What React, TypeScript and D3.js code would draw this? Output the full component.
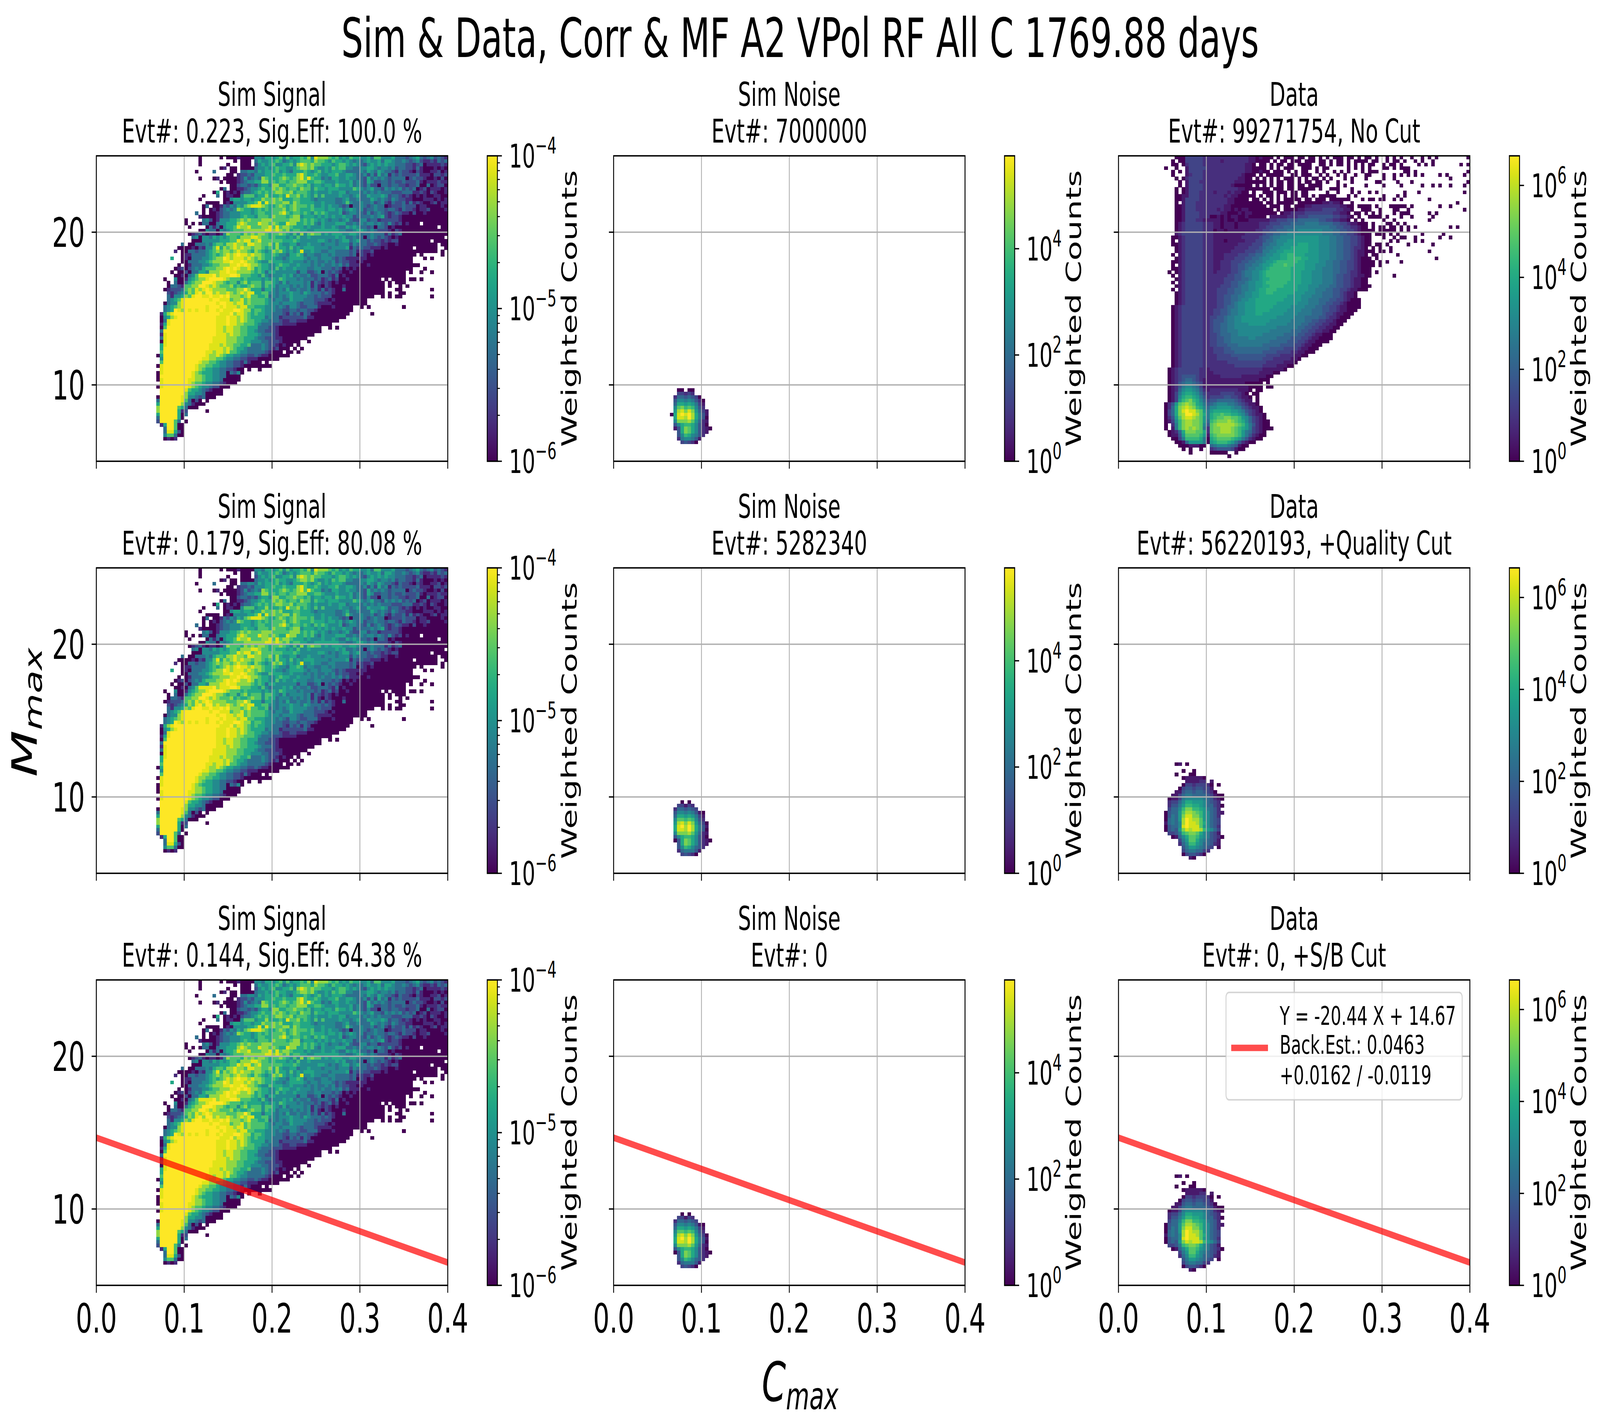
import React from "react";
import * as d3 from "d3";

// Each row: "firstColumn:levels". '.' = empty bin, spaces are only visual separators.
// Levels are log-scale codes (digits 0-9 for signal, hex 0-f for the others).
// The three Sim Signal panels are drawn from this single read-off array (their bins differ only in speckle).
const signalRows: string[] = [
"29:0.....0.00010000 4435545646 4556574877 7656454655 4453664445 3332345323 42321",
"29:0.........0.000. 3544556534 5456665766 5465545434 3454453554 3343234211 21323",
"29:0.......0...000. 2454564455 6478767665 5545665454 3245454544 3332212301 11121",
"29:......01.00.0000 3445456554 4567767544 5465664433 4455434434 2332213100 01010",
"28:0....3....00.3344 3545556454 3555654564 5455543333 4354354332 1322102100 11201",
"37:00.12232 4445565565 5578655654 4556445543 3424253413 2322223111 02212",
"29:0...01.000012423 4376555676 5678686553 4355445443 3253434323 3330232210 01020",
"35:0.00012344 5577565665 6677755665 4445444534 3254223323 2232223101 11211",
"38:0023323 2455477556 6766564554 5546554534 3242203323 3221223003 01220",
"35:03.0011234 4565576765 6657664655 4555444465 4345332434 3423230120 11101",
"33:05.0101023 34 5656567766 7566654544 4544553444 3434343332 2233311210 21001",
"30:0...3.01100466 6 4557555658 6675654646 4444544345 3354445423 3212101010 01100",
"29:0......0045 54554 5576676755 5665554344 4443345334 3335434324 3221100011 10101",
"31:0000.010444455 6858676677 5765555445 4443346433 4334234213 2231312100 12011",
"30:03.00132435 4678 8876556765 6766656445 4544323033 4323433012 2232220110 00010",
"30:0.010234 3476 554 5656566675 6765556555 4554534543 4233433233 2132210112 00001",
"28:3.0.001233 4445 554 5665566786 5665654656 5444523443 3242343212 3211020010 00000",
"29:1000012334 4456 55 4666576665 6774555454 5454454423 3334345212 2100000000 00000",
"25:0....342014445 5676 76 6677766666 7775656545 4344345322 4423312222 2100000000 00000",
"25:0.0.033003445 5578 766 6877676558 7755656435 4445553343 4344343242 1201000.00 00000",
"26:0....0313045 5687 786 6677868677 6555454445 4454335454 3323033201 0000000000 00.00",
"29:0043304 3456 6677 77 7788787675 6655445555 5554433455 4343222102 1000000000 00000",
"26:0123101101476665767 6776566765 4647467664 5455544554 3334333131 2300000000 00000",
"27:340443545456657778 8766565554 5464454444 4445453343 3034323210 1000000000 0000.",
"27:000444445556687886 7866666655 5654444455 4343455345 3323221212 2000000000 .0000",
"24:3.0033343566577877688 7766757544 5534454443 4443444243 3322321100 1000000000 00.00",
"23:0000102144685767878776 7765657554 6454555444 4344445132 3221110100 00000.0000 00..0",
"22:1.0033233456767767877 65 7654576754 5458445443 3443333231 2112000000 0000000000 00.0.",
"24:011333345656787898878 7765565443 5565344334 4343333230 2101000000 000000.0.. ...0.",
"21:5..010333445677987888787 6765554434 5555434434 4432321111 1100000000 00000...0. 0....",
"24:003334456777889889877 6544655544 5444343433 4342322110 1000000000 00000..... .....",
"23:0.0133344566777889898776 5544565544 5444343433 4342311100 1000000000 00000..... .....",
"22:01202343566677898987787 5655446454 4544433443 3323201010 0000000000 00000...0. .....",
"21:0.0020335547778898877776 5653554444 4424422340 3232100100 0000000000 000.0..0.. 0....",
"22:00103468888978889986665 5464344454 5343342233 3213010000 0000000000 000....... .....",
"19:0..40014567789999876665655 5545454654 4434333231 2312001000 000000.0.0 000.00.0.. .....",
"20:0.30035677999877656646756 6646654353 4444341321 2101000000 0000000.0. 000....... .....",
"20:0332166779987876667565567 6646553444 3434341310 2100010000 0000000.0. .0.0......",
"19:01222367687898777766677975 5535543435 3343342313 1210030000 0000000... 00........ 0....",
"20:2123457689799787787678788 5566443444 5443543332 3210000000 0000000.0. .00.......",
"20:3144576899889889897776786 6556343434 5444433232 2200000000 0000..0.0. 00........ 0....",
"20:3456899999998998886778676 6665434433 5444333222 1010000000 00........",
"19:03447899999999989988788676 6665444344 4432333211 1100000000 00........",
"19:34567899999989998988878866 5554443432 4432233310 00100000.. 0.0....... ..0.......",
"19:34598798989989989888998775 6654443322 3323322100 00000000..",
"18:1578 9999999999999 8889788765 6554433321 3231320000 0000000... ...0......",
"18:04578 99999999999 88898878765 5553433122 2222311000 000000....",
"18:0389 999999999999 88898878766 5544333211 2211100000 0000......",
"18:1589 999999999999 88898877666 5433322211 1100000000 00........",
"18:069 9999999999999 88788776655 5333221000 000000000. .0.0......",
"18:39 99999999999999 88788776655 4332221000 000000000.",
"18:18 99999999999999 88878776655 5433321000 0000000...",
"18:38 9999999999999 888877766555 4332221100 00000.....",
"18:08 9999999999999 888877766554 4433222100 000..0....",
"18:58 999999999999 8887877665563 3343221010 0.0.......",
"18:59 999999999999 8888787655433 3343212000 .0.0......",
"18:69 99999999999 88788786654433 33321000.0 0.0.......",
"17:059 99999999999 87787655443322 3211000000",
"18:49 9999999999 887766544332211 1000000...",
"18:69 999999999 8776654433221310 00.0......",
"17:089 99999999 87766554433221000 00000.....",
"18:89 99999999 87655443322100.0. .0........",
"17:089 9999999 876555443303240",
"17:09 99999999 87765544330000",
"17:089 999999 887765544300000",
"18:8 9999999 87665443321000",
"17:08 9999999 876544322000",
"18:9999999 86554321000",
"18:9999999 75544300000",
"17:0 999999 8744323000",
"17:3 999999 863020.0",
"17:5 999999 7431000",
"17:7 99999 653000",
"17:7 99999 512.....0",
"17:5 99999 503",
"17:3 99999 50",
"17:2 9999 63.0",
"18:1599600",
"19:399600",
"19:388520",
"19:466300",
"19:0101",
];

const noiseRowsTop: string[] = [
...Array<string>(67).fill(""),
"18:00.00",
"18:33232",
"17:25545430",
"17:477676420",
"17:599898631",
"17:7bcaba742",
"17:8decec8531",
"16:09efefd9641",
"17:9eedfd9640",
"17:7cccdb8521",
"17:479aa97420",
"17:149cb974210",
"18:49cb97421",
"18:47a97642",
"18:2677641",
"19:34320",
];

const noiseRowsCut: string[] = [
...Array<string>(67).fill(""),
"19:0.0",
"18:33132",
"17:2554543",
"17:477676410",
"17:599898631",
"17:7bbaba742",
"17:8decec8530",
"17:9efdfd9641",
"17:9eedfd9640",
"17:7cccdb8521",
"17:479aa97420",
"17:049cb974210",
"18:49cb97421",
"18:47a97542",
"18:2566641",
"19:34320",
];

const dataRowsTop: string[] = [
"16:0003333322 22222222222 110100 0.0.000.0 0.00.0.0.000.00.0.00.0..0.0....0..0.0",
"15:0.003333322 22212222222 110000 .0.00.00 0.000.00.0.00.0.0000.00..0.00.0",
"15:00.0233332 22222222222 110.00 .0.00.00 .0000..00.0.00.0.0.0.00..0.00.0....0.0.0",
"13:0..0..133333 22222222222 110000 .0.0.000..000.0.00.....0.0.0.0...00.0.000",
"15:0.0.133332 22222222222 110010 0.000.0.0.00..0.0..0.0.0...0.000.......00.0",
"15:0...123332 22222222221 000.0.0 0000..00.000..0.0..0.0..0..00...0..0.0.0.0",
"16:0.0233332 22222222211 00.0.0 .0.0.000.0.0.00.0.0...0.0...0....0..0..",
"17:0.133322 22222222111 000000 .0.00.00.0.00.00.0..0...0......00....0",
"17:0.133332 2222222100 000.0.0.0.00.00.00.0000....0.0.....0....0....0",
"16:0.0133332 2222222221 1000000 0.000.00.00000.0..000...0...",
"16:0.0133322 2212221211 00.0..0 00.000.00.00.....0..0...0.0..0.0.......0...0",
"16:00113332 2222221211 00000.0 .00.0.0.00.00.0.00000...0.0.......0...0.0",
"16:0013333 2222222211 0000.00 .0.0.0.00000.00.000.000000...0.00.00..0.0",
"16:0.13332 2222222211 0000000 0.00.00000.0000000112110..0...",
"16:0013332 2222222110 0000000 00.000.00.000 1122222222 1100 .0000.0...00000.0",
"16:0013332 2222212110 1011000 0000.0.0000 11222223333 22110 ..000..0...00..0.",
"16:0013333 2222221100 0101100 00000.0 1122223333 33332211 0.00.0.0.0...0.000.",
"16:00133332 2200101011 0010000 0.1111 1222333444 44443322 10.0..0000.0...0..0",
"16:0013332 2111110100 1000 1111 1122333444 5555554433 22110 .0.0.....0..0",
"16:0123333322 211011101111112 2233344455 5566665555 4433211000 .0...00.0.0",
"16:0123333322 211011101111112 2334445556 6666666665 5443322100 .0.00.00.0.0.0",
"16:0123333322 201101111111122 3344555666 7777777666 5544332100 00.00000.0.0",
"16:1233333322 211111111122222 3445566777 7777777666 5544332100 0.000.0.0...",
"15:00123333322 211111111222223 4456677778 8888887776 6554433210 0...0..0.00..0",
"15:0.123333322 211101111122233 4556777888 8888887776 6554433210 0.....0.0.",
"15:00123333322 211111112222333 5566778888 9998887776 6554433210 0.00.0..",
"15:.0123333322 211111122223334 5667788899 9998887776 6554432210 .0.0..0..",
"15:.0123333322 211111222233344 6677889999 9998887776 6554432110 00.00.0",
"15:0.123333322 211122223334455 6778899aa9 9988887776 6554432110 .00.....0",
"15:.0123333322 211122233344556 7788899aaa a998887776 6554432100 0.0..",
"15:00123333322 211222333445566 7889aaaaaa 9988887766 5544332100 00.0.0.",
"15:0.123333322 211222334455667 889aaabaa9 9988877766 5544332100 00.0...",
"15:00123333322 211222334456677 89aaaaaa99 9988877666 5544332100 0.",
"14:0.0123333322 212222334566778 9aaaaaaa99 9888777666 5544322100 0.0",
"15:0.123333322 222223344566778 9aaaaaaa99 9888777666 5443322110 0",
"15:.0123333322 222233344556778 99aaaaaa99 9888777666 5443321100",
"15:0.123333322 222233445567788 9aaaaaa999 9888777666 5443321100",
"15:.0123333322 222333445667788 99aaaa9999 8887776665 5443321100 0",
"15:0.123333322 223334455667789 9aaa999999 8887766655 4433211000",
"15:.0123333322 223334455677889 9aa9999998 8877766555 4432110",
"15:.0123333322 223344556677889 9999999888 8777666555 4432110",
"15:.0123333322 223344556778899 9999998888 8776665554 43321000",
"15:.0123333322 223344567788899 9999888888 7776665544 33210000",
"15:01233333322 223345567788899 9998888877 7766655443 32110000",
"15:01233333322 233445667788899 9988888777 7666555443 3211000",
"15:01233333322 233445667788899 8888887777 6666555433 211000",
"15:01233333322 334456677888888 8888777776 6655554432 21000",
"15:01233333322 344456677888888 8877777766 6655443322 1000",
"15:01233333322 344556677778888 8777777666 6554433221 100",
"15:01233333322 344556677777777 7777666666 5544332211 00",
"15:01233333322 344556667777777 7766666655 5443322110 0",
"15:01233333322 334555667777777 6666665555 4433211000",
"15:01233333322 334455666667766 6666555544 4332110000",
"15:01233333322 334455666666666 6655555444 332110000",
"15:01233333322 334445556666666 5555544443 3211000",
"15:01233333322 233344555555555 5544443333 211000",
"15:01233333322 233344455555555 4444333322 11000",
"15:01233333322 223333444444444 4333322221 100",
"15:01233333322 223333334444444 3332222211 0",
"15:01233333322 222223333333333 3222221110",
"15:01233333322 222222233333333 222211100",
"14:012333333221 222222222222222 1111110",
"14:012333333221 122222222222221 11100",
"14:012344443221 111222222111111 100",
"14:012345543211 111111111111110 00",
"14:012456654311 111111111100000 .0",
"14:012467765311 11111111111000 0.00",
"14:012578876421 222222221110.00",
"14:013689987532 22233332210.00",
"14:01379aa98642 333344332110.0",
"14:0138abca9753 445555543211.0",
"13:0248bcdcb9864 56777665432110",
"13:0259cdedca975 778888766432110",
"13:0359cefeecb86 899999887643210",
"13:0359cdffedb96 9aabaa9987532110",
"13:0248bdeedcb86 9abbccbba8753210",
"13:0137acddccb85 abcccdcba97532100",
"13:0.26acddccb74 bcdddddcba8642100",
"13:0.16acdcdcb62 bccdddcba986321000",
"14:01259cccbb92 bccdddcba8653210",
"14:01148bbbba81 abcccccba8642100",
"15:0036aaaa960 9abbbba98642100",
"16:0015888860 89aaa98642100",
"17:00011100. 56777654100",
"18:0.0..0.. 2344443100",
"20:0.....00000..0",
"31:0",
];

// Isolated single-count bins in the upper right of the "No Cut" data panel: [row, column]
const dataSparseBins: [number, number][] = [
[0,80],[1,84],[1,86],[1,89],[0,90],[0,99],[2,97],[2,99],[4,99],[5,98],[5,91],[5,93],[6,94],[5,84],[5,86],
[7,83],[8,86],[8,89],[8,91],[8,94],[8,98],[7,99],[10,98],[12,88],[13,96],[14,91],[14,94],[15,98],[16,88],
[16,90],[17,89],[18,88],[20,94],[20,96],[22,92],[23,94],[23,91],[22,86],[25,89],[27,88],[29,90],[30,80],
[34,78],[24,84],[24,86],[25,82],
];

const dataRowsCut: string[] = [
...Array<string>(56).fill(""),
"16:01.0",
"",
"18:0..0",
"16:0...00",
"18:0111110",
"19:111122.1",
"18:033233320.0",
"17:0344344331",
"16:114554554320",
"15:113566555543100",
"14:0113677777654210",
"14:233579988875432",
"14:24468aa998755320",
"14:3557accaa986542",
"13:04558bddcba875421",
"13:04658ceecca87542",
"13:05658dfeddb87543",
"13:15657dfeedb97543",
"13:04557efeeeb87542",
"13:04548cedeeda8753",
"14:3346abccb976431",
"15:01579bba8764320",
"17:368bb9765431",
"17:257aa8755421",
"18:468876543.0",
"18:35665532",
"18:0344320",
"20:10",
];

const titleText = "Sim & Data, Corr & MF A2 VPol RF All C 1769.88 days";
const panelTitles: [string, string][][] = [
  [["Sim Signal", "Evt#: 0.223, Sig.Eff: 100.0 %"], ["Sim Noise", "Evt#: 7000000"], ["Data", "Evt#: 99271754, No Cut"]],
  [["Sim Signal", "Evt#: 0.179, Sig.Eff: 80.08 %"], ["Sim Noise", "Evt#: 5282340"], ["Data", "Evt#: 56220193, +Quality Cut"]],
  [["Sim Signal", "Evt#: 0.144, Sig.Eff: 64.38 %"], ["Sim Noise", "Evt#: 0"], ["Data", "Evt#: 0, +S/B Cut"]],
];
const xTicks = [0, 0.1, 0.2, 0.3, 0.4];
const yTicks = [10, 20];
const cutSlope = -20.44;
const cutIntercept = 14.67;
const legendLines = ["Y = -20.44 X + 14.67", "Back.Est.: 0.0463", "+0.0162 / -0.0119"];

const colDomains: [number, number][] = [[1e-6, 1e-4], [1, 5.6e5], [1, 4.4e6]];
const colTicks: number[][] = [[-6, -5, -4], [0, 2, 4], [0, 2, 4, 6]];
const signalMinor = [2, 3, 4, 5, 6, 7, 8, 9];
const colMaxLevel = [8.4, 15, 15];

const W = 6443, H = 3646;
const FONT = "'DejaVu Sans', sans-serif";
const colLeft = [388, 2471, 4504];
const rowTop = [399, 1454, 2509];
const AW = 1415, AH = 782;
const CB_DX = 1574, CB_W = 41;
const CB_LABEL = [2322 - 388, 4353 - 2471, 6387 - 4504];
const NX = 100, NY = 88;

function parseRows(rows: string[]) {
  const cells: { r: number; c: number; level: number }[] = [];
  rows.forEach((row, r) => {
    if (!row) return;
    const [s, body] = row.split(":");
    const start = +s;
    body.replace(/ /g, "").split("").forEach((ch, i) => {
      const c = start + i;
      if (ch !== "." && c < NX) cells.push({ r, c, level: parseInt(ch, 16) });
    });
  });
  return cells;
}

const gridColor = "#b0b0b0";

function Sup({ x, y, exp }: { x: number; y: number; exp: number }) {
  return (
    <text x={x} y={y} fontSize={83}>
      10<tspan fontSize={58} dy={-36}>{exp < 0 ? "\u2212" + -exp : exp}</tspan>
    </text>
  );
}

function Panel({ row, col, rows, extra }: { row: number; col: number; rows: string[]; extra?: [number, number][] }) {
  const left = colLeft[col], top = rowTop[row];
  const x = d3.scaleLinear().domain([0, 0.4]).range([left, left + AW]);
  const y = d3.scaleLinear().domain([5, 25]).range([top + AH, top]);
  const [vmin, vmax] = colDomains[col];
  const norm = d3.scaleLog().domain([vmin, vmax]).range([0, 1]).clamp(true);
  const color = (v: number) => d3.interpolateViridis(norm(v));
  const binX = 0.4 / NX, binY = 20 / NY;
  const maxLevel = colMaxLevel[col];
  const cells = parseRows(rows).concat((extra ?? []).map(([r, c]) => ({ r, c, level: 0 })));
  const clipId = `clip-${row}-${col}`;
  const line = d3.line<number>().x((d) => x(d)).y((d) => y(cutSlope * d + cutIntercept));
  const cbX = left + CB_DX;
  const cbId = `cb-${row}-${col}`;
  const cbY = d3.scaleLog().domain([vmin, vmax]).range([top + AH, top]);
  const stops = d3.range(0, 33).map((i) => i / 32);
  const minor = col === 0 ? [-6, -5].flatMap((e) => signalMinor.map((m) => m * Math.pow(10, e))) : [];
  return (
    <g>
      <defs>
        <clipPath id={clipId}><rect x={left} y={top} width={AW} height={AH} /></clipPath>
        <linearGradient id={cbId} x1="0" y1="1" x2="0" y2="0">
          {stops.map((s) => <stop key={s} offset={s} stopColor={d3.interpolateViridis(s)} />)}
        </linearGradient>
      </defs>
      <g shapeRendering="crispEdges">
        {cells.map((d, i) => (
          <rect key={i}
            x={x(d.c * binX)} y={y(25 - d.r * binY)}
            width={x(binX) - x(0) + 0.6} height={y(5) - y(5 + binY) + 0.6}
            fill={color(vmin * Math.pow(vmax / vmin, d.level / maxLevel))} />
        ))}
      </g>
      {xTicks.map((t) => <line key={t} x1={x(t)} x2={x(t)} y1={top} y2={top + AH} stroke={gridColor} strokeWidth={3.4} />)}
      {yTicks.map((t) => <line key={t} x1={left} x2={left + AW} y1={y(t)} y2={y(t)} stroke={gridColor} strokeWidth={3.4} />)}
      {row === 2 && (
        <path d={line([0, 0.4]) ?? ""} clipPath={`url(#${clipId})`} fill="none" stroke="#ff0000" strokeOpacity={0.7} strokeWidth={16.7} />
      )}
      <rect x={left} y={top} width={AW} height={AH} fill="none" stroke="black" strokeWidth={3.6} />
      {xTicks.map((t) => <line key={t} x1={x(t)} x2={x(t)} y1={top + AH} y2={top + AH + 19} stroke="black" strokeWidth={3.4} />)}
      {yTicks.map((t) => <line key={t} x1={left - 19} x2={left} y1={y(t)} y2={y(t)} stroke="black" strokeWidth={3.4} />)}
      {row === 2 && xTicks.map((t) => (
        <text key={t} x={x(t)} y={top + AH + 121} fontSize={104} textAnchor="middle">{t.toFixed(1)}</text>
      ))}
      {col === 0 && yTicks.map((t) => (
        <text key={t} x={left - 46} y={y(t) + 38} fontSize={104} textAnchor="end">{t}</text>
      ))}
      <text x={left + AW / 2} y={top - 128} fontSize={83} textAnchor="middle">{panelTitles[row][col][0]}</text>
      <text x={left + AW / 2} y={top - 34} fontSize={83} textAnchor="middle">{panelTitles[row][col][1]}</text>

      <rect x={cbX} y={top} width={CB_W} height={AH} fill={`url(#${cbId})`} stroke="black" strokeWidth={3.6} />
      {colTicks[col].map((e) => {
        const v = Math.pow(10, e), py = cbY(v);
        return (
          <g key={e}>
            <line x1={cbX + CB_W} x2={cbX + CB_W + 18} y1={py} y2={py} stroke="black" strokeWidth={3.4} />
            <Sup x={cbX + CB_W + 47} y={py + 30} exp={e} />
          </g>
        );
      })}
      {minor.map((v) => (
        <line key={v} x1={cbX + CB_W} x2={cbX + CB_W + 10} y1={cbY(v)} y2={cbY(v)} stroke="black" strokeWidth={2.6} />
      ))}
      <text transform={`translate(${left + CB_LABEL[col]},${top + AH / 2}) rotate(-90)`} fontSize={83} textAnchor="middle">Weighted Counts</text>

      {row === 2 && col === 2 && (
        <g>
          <rect x={4937} y={2541} width={951} height={275} rx={12} fill="white" fillOpacity={0.8} stroke="#cccccc" strokeOpacity={0.8} strokeWidth={4} />
          <line x1={4958} x2={5106} y1={2683} y2={2683} stroke="#ff0000" strokeOpacity={0.7} strokeWidth={16.7} />
          {legendLines.map((s, i) => (
            <text key={s} x={5153} y={[2624, 2698, 2776][i]} fontSize={66.7}>{s}</text>
          ))}
        </g>
      )}
    </g>
  );
}

export default function App() {
  const panels: string[][][] = [
    [signalRows, noiseRowsTop, dataRowsTop],
    [signalRows, noiseRowsCut, dataRowsCut],
    [signalRows, noiseRowsCut, dataRowsCut],
  ];
  // The browser may cap the window below the requested size, so the drawing is fitted to whatever window it got.
  const vw = window.innerWidth, vh = window.innerHeight;
  return (
    <svg width={vw} height={vh} viewBox={`0 0 ${W} ${H}`} preserveAspectRatio="none" fontFamily={FONT}
      style={{ position: "absolute", left: 0, top: 0, display: "block", background: "white" }}>
      <rect width={W} height={H} fill="white" />
      <text x={3222} y={146} fontSize={138.5} textAnchor="middle">{titleText}</text>
      {panels.map((rowP, r) => rowP.map((rows, c) => (
        <Panel key={`${r}-${c}`} row={r} col={c} rows={rows} extra={r === 0 && c === 2 ? dataSparseBins : undefined} />
      )))}
      <text x={3222} y={3587} fontSize={139} textAnchor="middle" fontStyle="italic">
        C<tspan fontSize={97} dy={21}>max</tspan>
      </text>
      <text transform="translate(148,1824) rotate(-90)" fontSize={139} textAnchor="middle" fontStyle="italic">
        M<tspan fontSize={97} dy={21}>max</tspan>
      </text>
    </svg>
  );
}
